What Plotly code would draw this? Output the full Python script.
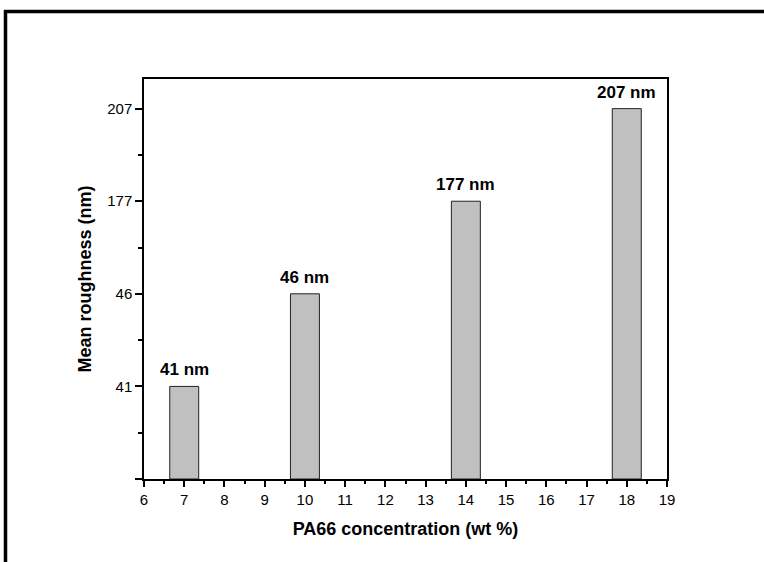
import plotly.graph_objects as go

concentration = [7, 10, 14, 18]
roughness = [41, 46, 177, 207]
bar_labels = ["41 nm", "46 nm", "177 nm", "207 nm"]
y_tick_labels = ["", "41", "46", "177", "207"]

# The y axis is a rank axis: each value sits at its own evenly spaced tick
rank = [sorted(roughness).index(v) + 1 for v in roughness]

FONT = "Arial, Liberation Sans, Helvetica, sans-serif"

W, H = 764, 562
L, R, T, B = 144, 667, 79, 479

fig = go.Figure()
fig.add_trace(go.Bar(
    x=concentration, y=rank, width=0.72,
    marker=dict(color="#C0C0C0", line=dict(color="#222222", width=1)),
    showlegend=False, hoverinfo="skip",
))

for xv, yv, lab in zip(concentration, rank, bar_labels):
    fig.add_annotation(x=xv, y=yv, text="<b>%s</b>" % lab, showarrow=False,
                       yanchor="bottom", yshift=5,
                       font=dict(family=FONT, size=17, color="black"))

fig.update_layout(
    width=W, height=H,
    margin=dict(l=L, r=W - R, t=T, b=H - B, pad=0),
    paper_bgcolor="white", plot_bgcolor="white",
    font=dict(family=FONT, size=14, color="black"),
    xaxis=dict(
        range=[6, 19], tickmode="linear", tick0=6, dtick=1,
        showline=True, linecolor="black", linewidth=1.5, mirror=True,
        ticks="outside", ticklen=6, tickwidth=1.5, tickcolor="black",
        minor=dict(dtick=0.5, tick0=6, ticks="outside", ticklen=3, tickwidth=1.5, tickcolor="black"),
        showgrid=False, zeroline=False,
        tickfont=dict(family=FONT, size=15),
        title=dict(text="<b>PA66 concentration (wt %)</b>", font=dict(family=FONT, size=18), standoff=16),
    ),
    yaxis=dict(
        range=[0, 4.32], tickmode="array", tickvals=[0, 1, 2, 3, 4], ticktext=y_tick_labels,
        showline=True, linecolor="black", linewidth=1.5, mirror=True,
        ticks="outside", ticklen=7, tickwidth=1.5, tickcolor="black",
        minor=dict(tickmode="array", tickvals=[0.5, 1.5, 2.5, 3.5], ticks="outside", ticklen=4, tickwidth=1.5, tickcolor="black"),
        showgrid=False, zeroline=False,
        tickfont=dict(family=FONT, size=15),
        title=dict(text="<b>Mean roughness (nm)</b>", font=dict(family=FONT, size=18), standoff=11),
    ),
)

# outer frame (top and left border, extending off the page)
pw, ph = R - L, B - T
def px(x):
    return (x - L) / pw
def py(y):
    return (B - y) / ph
fig.add_shape(type="line", xref="paper", yref="paper",
              x0=px(4), y0=py(11.5), x1=px(W + 5), y1=py(11.5),
              line=dict(color="black", width=3.5))
fig.add_shape(type="line", xref="paper", yref="paper",
              x0=px(5.5), y0=py(10), x1=px(5.5), y1=py(H + 5),
              line=dict(color="black", width=3.5))

fig.write_html("out.html")
